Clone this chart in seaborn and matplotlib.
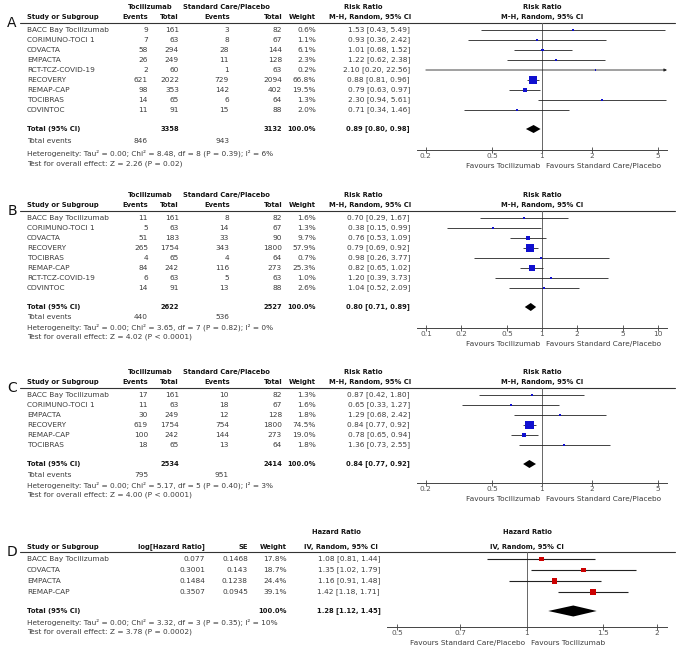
import numpy as np
import pandas as pd
import seaborn as sns
import matplotlib
matplotlib.use("Agg")
import matplotlib.pyplot as plt
from matplotlib.ticker import NullLocator

# ---------------- panel A ----------------
A_study = ["BACC Bay Tocilizumab", "CORIMUNO-TOCI 1", "COVACTA", "EMPACTA", "RCT-TCZ-COVID-19",
           "RECOVERY", "REMAP-CAP", "TOCIBRAS", "COVINTOC"]
A_toci_ev = [9, 7, 58, 26, 2, 621, 98, 14, 11]
A_toci_n = [161, 63, 294, 249, 60, 2022, 353, 65, 91]
A_sc_ev = [3, 8, 28, 11, 1, 729, 142, 6, 15]
A_sc_n = [82, 67, 144, 128, 63, 2094, 402, 64, 88]
A_weight = [0.6, 1.1, 6.1, 2.3, 0.2, 66.8, 19.5, 1.3, 2.0]
A_rr = [1.53, 0.93, 1.01, 1.22, 2.10, 0.88, 0.79, 2.30, 0.71]
A_lo = [0.43, 0.36, 0.68, 0.62, 0.20, 0.81, 0.63, 0.94, 0.34]
A_hi = [5.49, 2.42, 1.52, 2.38, 22.56, 0.96, 0.97, 5.61, 1.46]
A_tot_n = [3358, 3132]
A_tot_ev = [846, 943]
A_pooled = [0.89, 0.80, 0.98]
A_het = "Heterogeneity: Tau\u00b2 = 0.00; Chi\u00b2 = 8.48, df = 8 (P = 0.39); I\u00b2 = 6%"
A_test = "Test for overall effect: Z = 2.26 (P = 0.02)"
A_ticks = [0.2, 0.5, 1, 2, 5]

# ---------------- panel B ----------------
B_study = ["BACC Bay Tocilizumab", "CORIMUNO-TOCI 1", "COVACTA", "RECOVERY", "TOCIBRAS",
           "REMAP-CAP", "RCT-TCZ-COVID-19", "COVINTOC"]
B_toci_ev = [11, 5, 51, 265, 4, 84, 6, 14]
B_toci_n = [161, 63, 183, 1754, 65, 242, 63, 91]
B_sc_ev = [8, 14, 33, 343, 4, 116, 5, 13]
B_sc_n = [82, 67, 90, 1800, 64, 273, 63, 88]
B_weight = [1.6, 1.3, 9.7, 57.9, 0.7, 25.3, 1.0, 2.6]
B_rr = [0.70, 0.38, 0.76, 0.79, 0.98, 0.82, 1.20, 1.04]
B_lo = [0.29, 0.15, 0.53, 0.69, 0.26, 0.65, 0.39, 0.52]
B_hi = [1.67, 0.99, 1.09, 0.92, 3.77, 1.02, 3.73, 2.09]
B_tot_n = [2622, 2527]
B_tot_ev = [440, 536]
B_pooled = [0.80, 0.71, 0.89]
B_het = "Heterogeneity: Tau\u00b2 = 0.00; Chi\u00b2 = 3.65, df = 7 (P = 0.82); I\u00b2 = 0%"
B_test = "Test for overall effect: Z = 4.02 (P < 0.0001)"
B_ticks = [0.1, 0.2, 0.5, 1, 2, 5, 10]

# ---------------- panel C ----------------
C_study = ["BACC Bay Tocilizumab", "CORIMUNO-TOCI 1", "EMPACTA", "RECOVERY", "REMAP-CAP", "TOCIBRAS"]
C_toci_ev = [17, 11, 30, 619, 100, 18]
C_toci_n = [161, 63, 249, 1754, 242, 65]
C_sc_ev = [10, 18, 12, 754, 144, 13]
C_sc_n = [82, 67, 128, 1800, 273, 64]
C_weight = [1.3, 1.6, 1.8, 74.5, 19.0, 1.8]
C_rr = [0.87, 0.65, 1.29, 0.84, 0.78, 1.36]
C_lo = [0.42, 0.33, 0.68, 0.77, 0.65, 0.73]
C_hi = [1.80, 1.27, 2.42, 0.92, 0.94, 2.55]
C_tot_n = [2534, 2414]
C_tot_ev = [795, 951]
C_pooled = [0.84, 0.77, 0.92]
C_het = "Heterogeneity: Tau\u00b2 = 0.00; Chi\u00b2 = 5.17, df = 5 (P = 0.40); I\u00b2 = 3%"
C_test = "Test for overall effect: Z = 4.00 (P < 0.0001)"
C_ticks = [0.2, 0.5, 1, 2, 5]

# ---------------- panel D ----------------
D_study = ["BACC Bay Tocilizumab", "COVACTA", "EMPACTA", "REMAP-CAP"]
D_loghr = [0.077, 0.3001, 0.1484, 0.3507]
D_se = [0.1468, 0.143, 0.1238, 0.0945]
D_weight = [17.8, 18.7, 24.4, 39.1]
D_hr = [1.08, 1.35, 1.16, 1.42]
D_lo = [0.81, 1.02, 0.91, 1.18]
D_hi = [1.44, 1.79, 1.48, 1.71]
D_pooled = [1.28, 1.12, 1.45]
D_het = "Heterogeneity: Tau\u00b2 = 0.00; Chi\u00b2 = 3.32, df = 3 (P = 0.35); I\u00b2 = 10%"
D_test = "Test for overall effect: Z = 3.78 (P = 0.0002)"
D_ticks = [0.5, 0.7, 1, 1.5, 2]

sns.set_theme(style="white")
plt.rcParams["font.family"] = ["DejaVu Sans"]

W, H = 676, 650
fig = plt.figure(figsize=(W / 100, H / 100), dpi=100)
fig.patch.set_facecolor("white")
bg = fig.add_axes([0, 0, 1, 1])
bg.set_xlim(0, W)
bg.set_ylim(H, 0)
bg.axis("off")

FS = 5.3
FSB = 4.85
TXT = "#3c3c3c"
HDR = "#151515"


def put(x, y, s, ha="left", bold=False, size=None, color=None):
	if color is None:
		color = HDR if bold else TXT
	if size is None:
		size = FSB if bold else FS
	bg.text(x, y, s, ha=ha, va="center", fontsize=size,
	        fontweight="bold" if bold else "normal", color=color)


def fmt_ci(v, l, h):
	return "%.2f [%.2f, %.2f]" % (v, l, h)


def tick_txt(t):
	return str(int(t)) if float(t).is_integer() else str(t)


def forest_axes(x0, x1, ytop, ybot, xlim, ticks):
	ax = fig.add_axes([x0 / W, 1 - ybot / H, (x1 - x0) / W, (ybot - ytop) / H])
	ax.set_xscale("log")
	ax.set_xlim(xlim)
	ax.set_ylim(ybot, ytop)
	ax.patch.set_alpha(0)
	for s in ["top", "left", "right"]:
		ax.spines[s].set_visible(False)
	ax.spines["bottom"].set_color("#444444")
	ax.spines["bottom"].set_linewidth(0.7)
	ax.set_yticks([])
	ax.set_xticks(ticks)
	ax.set_xticklabels([tick_txt(t) for t in ticks])
	ax.xaxis.set_minor_locator(NullLocator())
	ax.tick_params(axis="x", direction="inout", length=4, width=0.6, color="#444444",
	               labelsize=FS, labelcolor="#555555", pad=0.3, bottom=True)
	ax.axvline(1, color="#666666", lw=0.7, zorder=1)
	ax.set_xlabel("")
	ax.set_ylabel("")
	return ax


def draw_marks(ax, est, lo, hi, wt, ys, color, lw):
	xmax = ax.get_xlim()[1]
	for e, l, h, y in zip(est, lo, hi, ys):
		if h > xmax:
			ax.annotate("", xy=(xmax, y), xytext=(l, y),
			            arrowprops=dict(arrowstyle="-|>", lw=lw, color="#222222",
			                            mutation_scale=4, shrinkA=0, shrinkB=0))
		else:
			ax.plot([l, h], [y, y], color="#222222", lw=lw, zorder=2, solid_capstyle="butt")
	df = pd.DataFrame({"est": est, "y": ys, "w": wt})
	sns.scatterplot(data=df, x="est", y="y", size="w", sizes=(1.5, 50), size_norm=(0, 100),
	                marker="s", color=color, linewidth=0, legend=False, ax=ax, zorder=3)
	ax.set_xlabel("")
	ax.set_ylabel("")


def diamond(ax, pooled, y, half):
	v, l, h = pooled
	ax.fill([l, v, h, v], [y, y - half, y, y + half], color="black", lw=0, zorder=3)


def favours(ax, left_txt, right_txt):
	ax.annotate(left_txt, xy=(1, 0), xycoords=("data", "axes fraction"), xytext=(-1.6, -11.2),
	            textcoords="offset points", ha="right", va="center", fontsize=FS, color=TXT)
	ax.annotate(right_txt, xy=(1, 0), xycoords=("data", "axes fraction"), xytext=(2.8, -11.2),
	            textcoords="offset points", ha="left", va="center", fontsize=FS, color=TXT)


def rr_panel(letter, line_y, row0, step, tot_y, axis_y, study, tev, tn, sev, sn, wt, rr, lo, hi,
             tot_n, tot_ev, pooled, het, test, xlim, ticks, ev_y, het_y, test_y):
	px0, px1 = 417, 667
	pc = (px0 + px1) / 2
	h1 = line_y - 16
	h2 = line_y - 6
	put(150, h1, "Tocilizumab", ha="center", bold=True)
	put(226, h1, "Standard Care/Placebo", ha="center", bold=True)
	put(363, h1, "Risk Ratio", ha="center", bold=True)
	put(pc, h1, "Risk Ratio", ha="center", bold=True)
	put(27, h2, "Study or Subgroup", bold=True)
	put(148, h2, "Events", ha="right", bold=True)
	put(179, h2, "Total", ha="right", bold=True)
	put(230, h2, "Events", ha="right", bold=True)
	put(282, h2, "Total", ha="right", bold=True)
	put(316, h2, "Weight", ha="right", bold=True)
	put(370, h2, "M-H, Random, 95% CI", ha="center", bold=True)
	put(pc, h2, "M-H, Random, 95% CI", ha="center", bold=True)
	bg.plot([20, 675], [line_y, line_y], color="#333333", lw=0.8)
	put(12, line_y, letter, ha="center", size=10, color="#111111")

	ys = [row0 + i * step for i in range(len(study))]
	for i, y in enumerate(ys):
		put(27, y, study[i])
		put(148, y, str(tev[i]), ha="right")
		put(179, y, str(tn[i]), ha="right")
		put(229, y, str(sev[i]), ha="right")
		put(282, y, str(sn[i]), ha="right")
		put(316, y, "%.1f%%" % wt[i], ha="right")
		put(410, y, fmt_ci(rr[i], lo[i], hi[i]), ha="right")

	put(27, tot_y, "Total (95% CI)", bold=True)
	put(179, tot_y, str(tot_n[0]), ha="right", bold=True)
	put(282, tot_y, str(tot_n[1]), ha="right", bold=True)
	put(316, tot_y, "100.0%", ha="right", bold=True)
	put(410, tot_y, fmt_ci(*pooled), ha="right", bold=True)
	put(27, ev_y, "Total events")
	put(148, ev_y, str(tot_ev[0]), ha="right")
	put(229, ev_y, str(tot_ev[1]), ha="right")
	put(27, het_y, het)
	put(27, test_y, test)

	ax = forest_axes(px0, px1, line_y, axis_y, xlim, ticks)
	draw_marks(ax, rr, lo, hi, wt, ys, "#1010d0", 0.6)
	diamond(ax, pooled, tot_y, 4)
	favours(ax, "Favours Tocilizumab", "Favours Standard Care/Placebo")


rr_panel("A", 23, 30, 10, 129, 150, A_study, A_toci_ev, A_toci_n, A_sc_ev, A_sc_n, A_weight,
         A_rr, A_lo, A_hi, A_tot_n, A_tot_ev, A_pooled, A_het, A_test,
         (0.2 / 1.13, 5 * 1.13), A_ticks, 141, 153, 164)
rr_panel("B", 211, 218, 10, 307, 328, B_study, B_toci_ev, B_toci_n, B_sc_ev, B_sc_n, B_weight,
         B_rr, B_lo, B_hi, B_tot_n, B_tot_ev, B_pooled, B_het, B_test,
         (0.1 / 1.2, 10 * 1.2), B_ticks, 317, 327, 337)
rr_panel("C", 388, 395, 10, 464, 483, C_study, C_toci_ev, C_toci_n, C_sc_ev, C_sc_n, C_weight,
         C_rr, C_lo, C_hi, C_tot_n, C_tot_ev, C_pooled, C_het, C_test,
         (0.2 / 1.13, 5 * 1.13), C_ticks, 475, 485, 495)

# ---- panel D (hazard ratio) ----
line_y = 552
h1, h2 = 532, 547
px0, px1 = 387, 667
pc = (px0 + px1) / 2
put(336, h1, "Hazard Ratio", ha="center", bold=True)
put(pc, h1, "Hazard Ratio", ha="center", bold=True)
put(27, h2, "Study or Subgroup", bold=True)
put(205, h2, "log[Hazard Ratio]", ha="right", bold=True)
put(248, h2, "SE", ha="right", bold=True)
put(287, h2, "Weight", ha="right", bold=True)
put(341, h2, "IV, Random, 95% CI", ha="center", bold=True)
put(pc, h2, "IV, Random, 95% CI", ha="center", bold=True)
bg.plot([20, 675], [line_y, line_y], color="#333333", lw=0.8)
put(12, line_y, "D", ha="center", size=10, color="#111111")

ysD = [559 + i * 11 for i in range(len(D_study))]
for i, y in enumerate(ysD):
	put(27, y, D_study[i])
	put(205, y, str(D_loghr[i]), ha="right")
	put(248, y, str(D_se[i]), ha="right")
	put(287, y, "%.1f%%" % D_weight[i], ha="right")
	put(380, y, fmt_ci(D_hr[i], D_lo[i], D_hi[i]), ha="right")
put(27, 611, "Total (95% CI)", bold=True)
put(287, 611, "100.0%", ha="right", bold=True)
put(381, 611, fmt_ci(*D_pooled), ha="right", bold=True)
put(27, 622, D_het)
put(27, 632, D_test)

axD = forest_axes(px0, px1, line_y, 627, (0.5 / 1.055, 2 * 1.055), D_ticks)
draw_marks(axD, D_hr, D_lo, D_hi, D_weight, ysD, "#cc0000", 0.8)
diamond(axD, D_pooled, 611, 5.5)
favours(axD, "Favours Standard Care/Placebo", "Favours Tocilizumab")

plt.savefig("out.png", dpi=100, facecolor="white")
